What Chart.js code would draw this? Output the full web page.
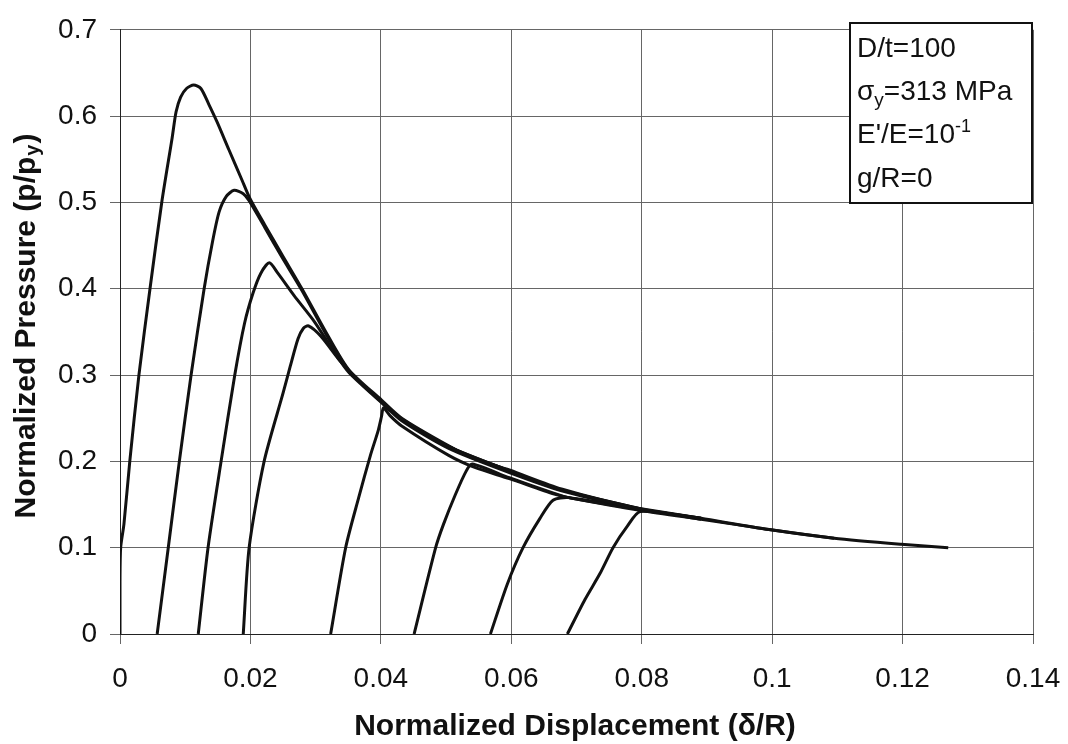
<!DOCTYPE html>
<html>
<head>
<meta charset="utf-8">
<script src="https://cdn.jsdelivr.net/npm/chart.js@4.4.0/dist/chart.umd.min.js"></script>
<style>
  html, body { margin: 0; padding: 0; background: #fff; }
</style>
</head>
<body>
<canvas id="grafica" width="1068" height="744"></canvas>
<script>
// valores de los ejes
var ticksX = [0, 0.02, 0.04, 0.06, 0.08, 0.1, 0.12, 0.14];
var etiquetasX = ['0', '0.02', '0.04', '0.06', '0.08', '0.1', '0.12', '0.14'];
var ticksY = [0, 0.1, 0.2, 0.3, 0.4, 0.5, 0.6, 0.7];
var etiquetasY = ['0', '0.1', '0.2', '0.3', '0.4', '0.5', '0.6', '0.7'];

// curvas [desplazamiento, presion]
var curva1 = [[0, 0], [0, 0.06], [0.0001, 0.1], [0.0006, 0.127], [0.0015, 0.2], [0.0029, 0.3], [0.0046, 0.4],
  [0.0064, 0.5], [0.008, 0.575], [0.0086, 0.605], [0.0093, 0.622], [0.0102, 0.632], [0.0113, 0.636],
  [0.0124, 0.632], [0.0136, 0.614], [0.0149, 0.593], [0.0167, 0.561], [0.0187, 0.526], [0.0199, 0.505],
  [0.0222, 0.474], [0.0248, 0.44], [0.0279, 0.4], [0.032, 0.344], [0.0351, 0.306], [0.0401, 0.271],
  [0.0432, 0.25], [0.0504, 0.218], [0.0544, 0.203], [0.0597, 0.19], [0.0677, 0.168], [0.0799, 0.145],
  [0.0891, 0.134], [0.0995, 0.121], [0.1095, 0.111], [0.1198, 0.104], [0.127, 0.1]];
var curva2 = [[0.0057, 0], [0.0074, 0.1], [0.0091, 0.2], [0.0109, 0.3], [0.0129, 0.4], [0.0142, 0.455],
  [0.0152, 0.489], [0.0163, 0.507], [0.0175, 0.514], [0.0189, 0.51], [0.0198, 0.502], [0.0222, 0.471],
  [0.0248, 0.437], [0.0279, 0.398], [0.032, 0.342], [0.0351, 0.305], [0.0401, 0.269], [0.0432, 0.249],
  [0.0504, 0.217], [0.0597, 0.189], [0.0677, 0.167], [0.0799, 0.144]];
var curva3 = [[0.012, 0], [0.0135, 0.1], [0.0155, 0.2], [0.0176, 0.3], [0.0191, 0.36], [0.0204, 0.395],
  [0.0216, 0.418], [0.0229, 0.43], [0.0242, 0.418], [0.0267, 0.392], [0.0298, 0.362], [0.0328, 0.327],
  [0.0351, 0.303], [0.0401, 0.268], [0.0432, 0.247], [0.0504, 0.215], [0.0597, 0.187], [0.0677, 0.166],
  [0.0799, 0.144]];
var curva4 = [[0.0189, 0], [0.0198, 0.1], [0.0221, 0.2], [0.025, 0.279], [0.0261, 0.31], [0.0273, 0.342],
  [0.0281, 0.354], [0.0289, 0.357], [0.0308, 0.345], [0.0339, 0.315], [0.0375, 0.287], [0.0401, 0.269],
  [0.0432, 0.249], [0.0504, 0.217], [0.0597, 0.189], [0.0677, 0.167], [0.0799, 0.145]];
var curva5 = [[0.0323, 0], [0.0346, 0.1], [0.0366, 0.158], [0.0384, 0.207], [0.0396, 0.236], [0.0401, 0.252],
  [0.0404, 0.262], [0.0414, 0.253], [0.0432, 0.241], [0.0504, 0.207], [0.0544, 0.193], [0.0597, 0.18],
  [0.0666, 0.162], [0.0688, 0.158], [0.0799, 0.143], [0.0891, 0.133]];
var curva6 = [[0.0451, 0], [0.0484, 0.1], [0.0496, 0.127], [0.0514, 0.161], [0.0531, 0.189], [0.054, 0.197],
  [0.0597, 0.181], [0.0666, 0.163], [0.0688, 0.158], [0.0799, 0.144], [0.0891, 0.134]];
var curva7 = [[0.0568, 0], [0.0594, 0.058], [0.0618, 0.1], [0.0644, 0.134], [0.0664, 0.155], [0.0688, 0.158],
  [0.0799, 0.145], [0.0891, 0.134]];
var curva8 = [[0.0686, 0], [0.0713, 0.04], [0.0736, 0.07], [0.0756, 0.1], [0.0778, 0.125], [0.0798, 0.142],
  [0.0891, 0.133], [0.0995, 0.121], [0.1095, 0.111]];

var curvas = [curva1, curva2, curva3, curva4, curva5, curva6, curva7, curva8];

var fuente = '"Liberation Sans", Arial, sans-serif';

// textos con subindices y el recuadro de parametros
var textos = {
  id: 'textos',
  afterDraw: function(chart) {
    var ctx = chart.ctx;
    ctx.save();
    ctx.fillStyle = '#111';
    ctx.textBaseline = 'alphabetic';

    // titulo eje x
    ctx.font = 'bold 30px ' + fuente;
    ctx.textAlign = 'center';
    ctx.fillText('Normalized Displacement (\u03b4/R)', 575, 735);

    // titulo eje y (girado)
    ctx.save();
    ctx.translate(35, 327);
    ctx.rotate(-Math.PI / 2);
    ctx.textAlign = 'left';
    var t1 = 'Normalized Pressure (p/p', t2 = 'y', t3 = ')';
    ctx.font = 'bold 30px ' + fuente;
    var w1 = ctx.measureText(t1).width, w3 = ctx.measureText(t3).width;
    ctx.font = 'bold 20px ' + fuente;
    var w2 = ctx.measureText(t2).width;
    var x0 = -(w1 + w2 + w3) / 2;
    ctx.font = 'bold 30px ' + fuente;
    ctx.fillText(t1, x0, 0);
    ctx.font = 'bold 20px ' + fuente;
    ctx.fillText(t2, x0 + w1 + 1, 4);
    ctx.font = 'bold 30px ' + fuente;
    ctx.fillText(t3, x0 + w1 + w2 + 2, 0);
    ctx.restore();

    // recuadro
    ctx.fillStyle = '#fff';
    ctx.fillRect(850, 23, 182, 180);
    ctx.strokeStyle = '#111';
    ctx.lineWidth = 2;
    ctx.strokeRect(850, 23, 182, 180);
    ctx.fillStyle = '#111';
    ctx.textAlign = 'left';
    var xt = 857;
    ctx.font = '28px ' + fuente;
    ctx.fillText('D/t=100', xt, 57);

    ctx.fillText('\u03c3', xt, 100);
    var ws = ctx.measureText('\u03c3').width;
    ctx.font = '19px ' + fuente;
    ctx.fillText('y', xt + ws, 106);
    var wy = ctx.measureText('y').width;
    ctx.font = '28px ' + fuente;
    ctx.fillText('=313 MPa', xt + ws + wy, 100);

    ctx.fillText("E'/E=10", xt, 143);
    var we = ctx.measureText("E'/E=10").width;
    ctx.font = '18px ' + fuente;
    ctx.fillText('-1', xt + we, 132);

    ctx.font = '28px ' + fuente;
    ctx.fillText('g/R=0', xt, 187);
    ctx.restore();
  }
};

var grafica = new Chart(document.getElementById('grafica').getContext('2d'), {
  type: 'scatter',
  data: {
    datasets: curvas.map(function(c) {
      return {
        data: c.map(function(p) { return { x: p[0], y: p[1] }; }),
        showLine: true,
        borderColor: '#111',
        borderWidth: 3,
        pointRadius: 0,
        tension: 0.25,
        fill: false
      };
    })
  },
  options: {
    responsive: false,
    animation: false,
    layout: { padding: { left: 0, right: 35, top: 23, bottom: 0 } },
    plugins: {
      legend: { display: false },
      tooltip: { enabled: false }
    },
    scales: {
      x: {
        type: 'linear',
        min: 0,
        max: 0.14,
        afterBuildTicks: function(scale) {
          scale.ticks = ticksX.map(function(v) { return { value: v }; });
        },
        afterFit: function(scale) {
          scale.height = 110;
          scale.paddingRight = 28; // que la etiqueta 0.14 no encoja el area
          scale.paddingLeft = 20;
        },
        grid: { color: '#666', lineWidth: 1, tickLength: 10 },
        border: { color: '#222', width: 1 },
        ticks: {
          color: '#111',
          font: { family: fuente, size: 28 },
          padding: 18,
          maxRotation: 0,
          callback: function(v, i) { return etiquetasX[i]; }
        }
      },
      y: {
        type: 'linear',
        min: 0,
        max: 0.7,
        afterBuildTicks: function(scale) {
          scale.ticks = ticksY.map(function(v) { return { value: v }; });
        },
        afterFit: function(scale) { scale.width = 120; },
        grid: { color: '#666', lineWidth: 1, tickLength: 10 },
        border: { color: '#222', width: 1 },
        ticks: {
          color: '#111',
          font: { family: fuente, size: 28 },
          padding: 13,
          callback: function(v, i) { return etiquetasY[i]; }
        }
      }
    }
  },
  plugins: [textos]
});
</script>
</body>
</html>
